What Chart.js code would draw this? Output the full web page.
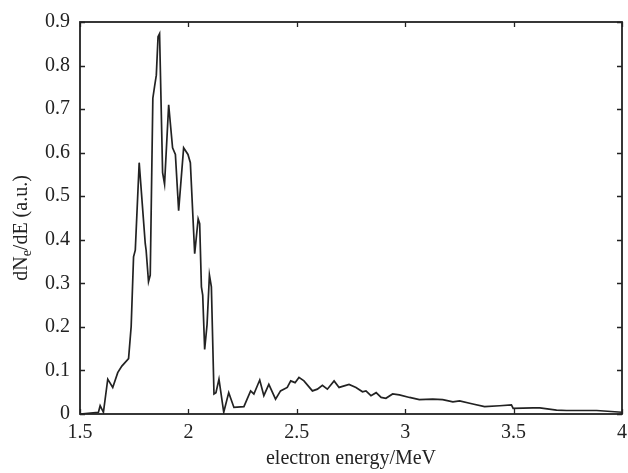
<!DOCTYPE html>
<html>
<head>
<meta charset="utf-8">
<script src="https://cdn.jsdelivr.net/npm/chart.js@4/dist/chart.umd.min.js"></script>
<style>
  html, body { margin: 0; padding: 0; background: #fff; }
  #wrap { width: 628px; height: 473px; }
</style>
</head>
<body>
<div id="wrap"><canvas id="spec"></canvas></div>
<script>
// Electron energy spectrum (MeV) and dNe/dE in arbitrary units
const energy = [
  1.500, 1.585, 1.593, 1.608, 1.628, 1.651, 1.674, 1.693, 1.724, 1.736,
  1.747, 1.755, 1.773, 1.801, 1.805, 1.816, 1.824, 1.836, 1.844, 1.852,
  1.860, 1.867, 1.881, 1.890, 1.909, 1.927, 1.940, 1.955, 1.978, 1.998,
  2.009, 2.029, 2.045, 2.052, 2.060, 2.066, 2.075, 2.086, 2.097, 2.106,
  2.118, 2.127, 2.141, 2.163, 2.186, 2.210, 2.256, 2.287, 2.302, 2.329,
  2.348, 2.371, 2.402, 2.425, 2.456, 2.472, 2.492, 2.510, 2.533, 2.572,
  2.595, 2.618, 2.641, 2.672, 2.695, 2.741, 2.773, 2.803, 2.819, 2.842,
  2.866, 2.889, 2.911, 2.942, 2.973, 3.020, 3.065, 3.127, 3.173, 3.220,
  3.251, 3.312, 3.366, 3.436, 3.490, 3.498, 3.590, 3.621, 3.698, 3.744,
  3.883, 4.000
];
const dNdE = [
  0.000, 0.004, 0.019, 0.004, 0.080, 0.061, 0.095, 0.110, 0.127, 0.201,
  0.361, 0.376, 0.577, 0.391, 0.376, 0.304, 0.319, 0.725, 0.752, 0.778,
  0.866, 0.873, 0.554, 0.528, 0.710, 0.611, 0.596, 0.467, 0.611, 0.596,
  0.577, 0.368, 0.448, 0.437, 0.292, 0.273, 0.148, 0.205, 0.319, 0.292,
  0.046, 0.049, 0.080, 0.004, 0.049, 0.015, 0.017, 0.053, 0.046, 0.078,
  0.042, 0.068, 0.034, 0.053, 0.061, 0.076, 0.072, 0.084, 0.076, 0.053,
  0.057, 0.066, 0.057, 0.076, 0.061, 0.068, 0.061, 0.051, 0.053, 0.042,
  0.049, 0.038, 0.036, 0.046, 0.044, 0.038, 0.033, 0.034, 0.033, 0.028,
  0.030, 0.023, 0.017, 0.019, 0.021, 0.013, 0.014, 0.014, 0.009, 0.008,
  0.008, 0.004
];

const xTicks = [1.5, 2, 2.5, 3, 3.5, 4];
const xTickLabels = ['1.5', '2', '2.5', '3', '3.5', '4'];
const yTicks = [0, 0.1, 0.2, 0.3, 0.4, 0.5, 0.6, 0.7, 0.8, 0.9];
const yTickLabels = ['0', '0.1', '0.2', '0.3', '0.4', '0.5', '0.6', '0.7', '0.8', '0.9'];

const FONT = 'Liberation Serif';
const INK = '#222';

// Box frame with inward ticks on all four sides
const frameTicks = {
  id: 'frameTicks',
  afterDatasetsDraw(chart) {
    const { ctx, chartArea: a, scales: { x, y } } = chart;
    const len = 5;
    ctx.save();
    ctx.strokeStyle = INK;
    ctx.lineWidth = 1.8;
    ctx.strokeRect(a.left, a.top, a.right - a.left, a.bottom - a.top);
    ctx.lineWidth = 1.3;
    ctx.beginPath();
    xTicks.forEach(v => {
      const px = Math.round(x.getPixelForValue(v)) + 0.5;
      ctx.moveTo(px, a.bottom); ctx.lineTo(px, a.bottom - len);
      ctx.moveTo(px, a.top); ctx.lineTo(px, a.top + len);
    });
    yTicks.forEach(v => {
      const py = Math.round(y.getPixelForValue(v)) + 0.5;
      ctx.moveTo(a.left, py); ctx.lineTo(a.left + len, py);
      ctx.moveTo(a.right, py); ctx.lineTo(a.right - len, py);
    });
    ctx.stroke();
    ctx.restore();
  }
};

// Vertical axis title with a subscript "e"
const yTitle = {
  id: 'yTitle',
  afterDraw(chart) {
    const { ctx } = chart;
    const parts = [
      { t: 'dN', size: 20, dy: 0 },
      { t: 'e', size: 14, dy: 5 },
      { t: '/dE (a.u.)', size: 20, dy: 0 }
    ];
    ctx.save();
    let total = 0;
    parts.forEach(p => { ctx.font = p.size + 'px "' + FONT + '"'; p.w = ctx.measureText(p.t).width; total += p.w; });
    ctx.translate(22, 228);
    ctx.rotate(-Math.PI / 2);
    ctx.fillStyle = INK;
    ctx.textBaseline = 'middle';
    ctx.textAlign = 'left';
    let cx = -total / 2;
    parts.forEach(p => {
      ctx.font = p.size + 'px "' + FONT + '"';
      ctx.fillText(p.t, cx, p.dy);
      cx += p.w;
    });
    ctx.restore();
  }
};

new Chart(document.getElementById('spec'), {
  type: 'line',
  data: {
    datasets: [{
      data: energy.map((e, i) => ({ x: e, y: dNdE[i] })),
      borderColor: INK,
      borderWidth: 1.7,
      pointRadius: 0,
      tension: 0,
      fill: false
    }]
  },
  options: {
    responsive: true,
    maintainAspectRatio: false,
    animation: false,
    devicePixelRatio: 1,
    layout: { padding: { top: 20, right: 6, left: 0, bottom: 0 } },
    plugins: { legend: { display: false }, tooltip: { enabled: false } },
    scales: {
      x: {
        type: 'linear',
        min: 1.5,
        max: 4,
        afterBuildTicks: s => { s.ticks = xTicks.map(v => ({ value: v })); },
        afterFit: s => { s.height = 59; s.paddingLeft = 0; s.paddingRight = 0; },
        grid: { display: false, drawTicks: false },
        border: { display: false },
        ticks: {
          callback: (v, i) => xTickLabels[i],
          autoSkip: false,
          maxRotation: 0,
          padding: 7,
          color: INK,
          font: { family: FONT, size: 20 }
        },
        title: {
          display: true,
          text: 'electron energy/MeV',
          color: INK,
          font: { family: FONT, size: 20 },
          padding: { top: 0, bottom: 2 }
        }
      },
      y: {
        min: 0,
        max: 0.9,
        afterBuildTicks: s => { s.ticks = yTicks.map(v => ({ value: v })); },
        afterFit: s => { s.width = 80; },
        grid: { display: false, drawTicks: false },
        border: { display: false },
        ticks: {
          callback: (v, i) => yTickLabels[i],
          autoSkip: false,
          padding: 10,
          color: INK,
          font: { family: FONT, size: 20 }
        }
      }
    }
  },
  plugins: [frameTicks, yTitle]
});
</script>
</body>
</html>
